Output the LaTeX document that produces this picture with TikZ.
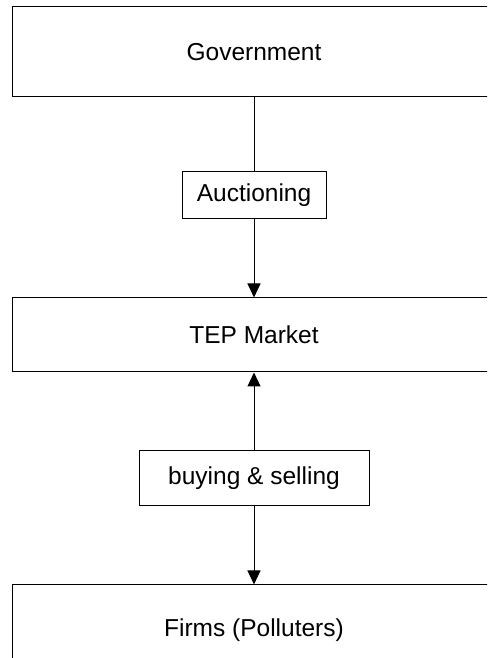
\documentclass[tikz,border=0pt]{standalone}
\usepackage{fontspec}
\setmainfont{Liberation Sans}
\usetikzlibrary{arrows.meta,positioning}

\begin{document}
\begin{tikzpicture}[
            x=1pt, y=1pt,
            node distance=78pt,
            level/.style={rectangle, draw, line width=1pt, minimum width=484pt, font=\fontsize{24.5}{29}\selectfont},
            tag/.style={rectangle, draw, line width=1pt, inner sep=0pt, font=\fontsize{24.5}{29}\selectfont},
            arrow/.style={-{Triangle[width=13pt,length=14pt]}, line width=1pt}
        ]
            \useasboundingbox (0,0) rectangle (487,658);
            \clip (0,0) rectangle (487,658);
            \node[level, minimum height=90pt] (gov) at (254,606) {Government};
            \node[tag, minimum width=144pt, minimum height=47pt, below=74pt of gov] (auction) {Auctioning};
            \node[level, minimum height=74pt, below=of auction] (market) {TEP Market};
            \node[tag, minimum width=230pt, minimum height=55pt, below=of market] (trade) {buying \& selling};
            \node[level, minimum height=90pt, below=of trade] (firms) {Firms (Polluters)};
            
            \draw[line width=1pt] (gov) -- (auction);
            \draw[arrow] (auction) -- (market);
            \draw[arrow] (trade) -- (market);
            \draw[arrow] (trade) -- (firms);
        \end{tikzpicture}
\end{document}
